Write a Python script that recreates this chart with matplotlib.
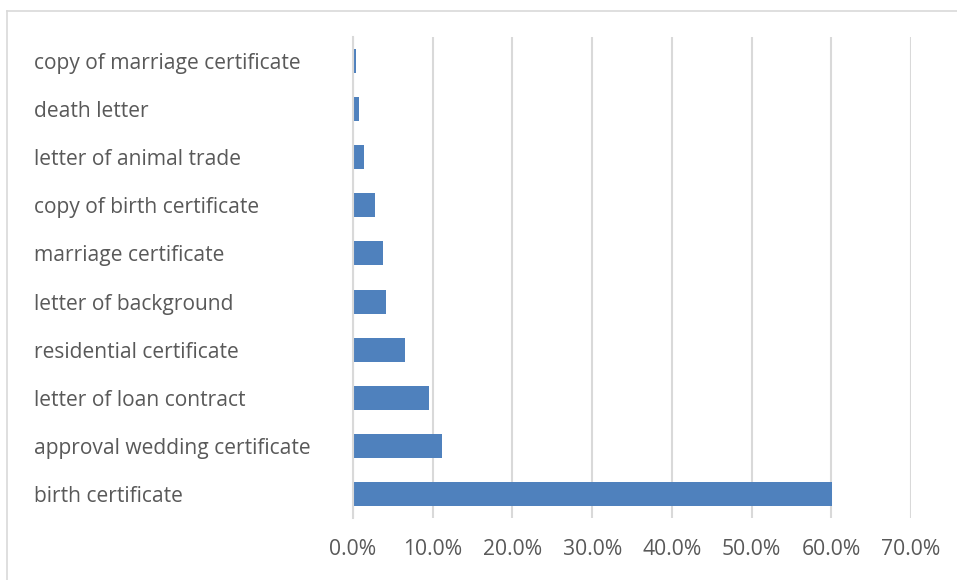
import matplotlib
matplotlib.use("Agg")
import matplotlib.pyplot as plt
from matplotlib.lines import Line2D
from matplotlib.ticker import FuncFormatter, MultipleLocator

# Share of document types (percent)
categories = [
    "birth certificate",
    "approval wedding certificate",
    "letter of loan contract",
    "residential certificate",
    "letter of background",
    "marriage certificate",
    "copy of birth certificate",
    "letter of animal trade",
    "death letter",
    "copy of marriage certificate",
]
shares = [60.1, 11.2, 9.5, 6.5, 4.1, 3.8, 2.8, 1.4, 0.7, 0.4]

bar_color = "#4F81BD"
grid_color = "#D9D9D9"
text_color = "#595959"

plt.rcParams["font.family"] = ["Open Sans", "DejaVu Sans"]

fig = plt.figure(figsize=(9.57, 5.80), dpi=100)
W, H = 957, 580
ax = fig.add_axes([353 / W, (H - 518) / H, 558 / W, 481 / H])

y = list(range(len(categories)))
ax.barh(y, shares, height=0.5, color=bar_color, zorder=3)

ax.set_xlim(0, 70)
ax.set_ylim(-0.5, len(categories) - 0.5)
ax.xaxis.set_major_locator(MultipleLocator(10))
ax.xaxis.set_major_formatter(FuncFormatter(lambda v, _: f"{v:.1f}%"))
ax.grid(axis="x", color=grid_color, linewidth=1.5, zorder=0)
ax.set_axisbelow(True)

ax.set_yticks(y)
ax.set_yticklabels(categories)
for lab in ax.get_yticklabels():
    lab.set_horizontalalignment("left")

ax.tick_params(axis="y", length=0, pad=319 * 0.72, labelsize=15.1, labelcolor=text_color)
ax.tick_params(axis="x", length=0, pad=15, labelsize=15.2, labelcolor=text_color)

for side in ("top", "right", "bottom"):
    ax.spines[side].set_visible(False)
ax.spines["left"].set_color(grid_color)
ax.spines["left"].set_linewidth(1.5)
ax.spines["left"].set_zorder(4)

# Outer chart-area frame
fig.add_artist(Line2D([7 / W, 7 / W], [0, 1 - 11 / H], color=grid_color, linewidth=1.2))
fig.add_artist(Line2D([7 / W, 1], [1 - 11 / H, 1 - 11 / H], color=grid_color, linewidth=1.2))

fig.savefig("out.png", dpi=100)
